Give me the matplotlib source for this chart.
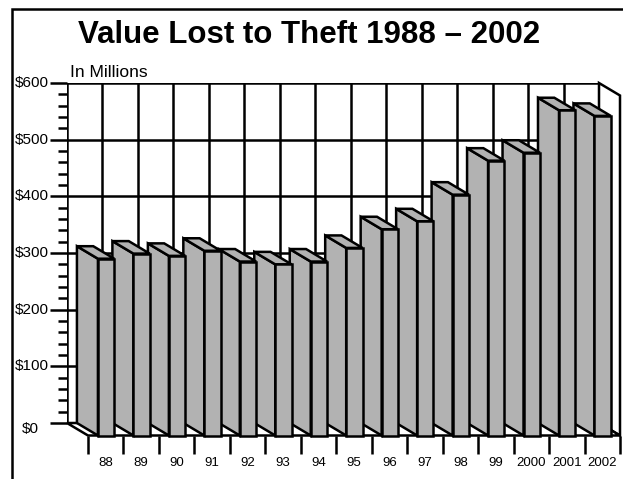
import matplotlib.pyplot as plt
from matplotlib.patches import Polygon, Rectangle
from matplotlib.ticker import MultipleLocator

years = ['88', '89', '90', '91', '92', '93', '94', '95', '96', '97',
         '98', '99', '2000', '2001', '2002']
values = [312, 321, 317, 326, 307, 302, 307, 331, 364, 378,
          425, 485, 499, 574, 564]
y_ticks = [0, 100, 200, 300, 400, 500, 600]
y_labels = ['$0', '$100', '$200', '$300', '$400', '$500', '$600']

W, H = 623, 479
DPI = 100
FONT = 'Liberation Sans'
GREY = '#b2b2b2'
LW = 1.8

fig = plt.figure(figsize=(W / DPI, H / DPI), dpi=DPI)

# back wall spans pixels x 67..599, y 83..423
ax = fig.add_axes([67 / W, 56 / H, 532 / W, 340 / H])
n = len(years)
ymax = y_ticks[-1]
ax.set_xlim(0, n)
ax.set_ylim(0, ymax)
for s in ax.spines.values():
    s.set_visible(False)
ax.patch.set_visible(False)

px_x = 532 / n          # pixels per category
px_y = 340 / ymax       # pixels per dollar
DX = 21 / px_x          # depth offset, front is right / down of back
DY = 12.5 / px_y

# back wall with grid
ax.add_patch(Rectangle((0, 0), n, ymax, facecolor='white', edgecolor='black',
                       lw=LW, zorder=1))
ax.hlines(y_ticks[1:-1], 0, n, colors='black', lw=LW, zorder=2)
ax.vlines(range(1, n), 0, ymax, colors='black', lw=LW, zorder=2)

# right wall and floor
ax.add_patch(Polygon([(n, 0), (n, ymax), (n + DX, ymax - DY), (n + DX, -DY)],
                     closed=True, facecolor='white', edgecolor='black',
                     lw=LW, zorder=3, clip_on=False))
ax.add_patch(Polygon([(0, 0), (n, 0), (n + DX, -DY), (DX, -DY)],
                     closed=True, facecolor='white', edgecolor='black',
                     lw=LW, zorder=3, clip_on=False, joinstyle='miter'))

# 3d bars, drawn right to left so the left ones sit in front
b0, b1 = 0.28, 0.74
for i in range(n - 1, -1, -1):
    v = values[i]
    L, R = i + b0, i + b1
    z = 10 + (n - i)
    faces = [
        [(L, 0), (L, v), (L + DX, v - DY), (L + DX, -DY)],
        [(L, v), (R, v), (R + DX, v - DY), (L + DX, v - DY)],
        [(L + DX, -DY), (R + DX, -DY), (R + DX, v - DY), (L + DX, v - DY)],
    ]
    for f in faces:
        ax.add_patch(Polygon(f, closed=True, facecolor=GREY, edgecolor='black',
                             lw=LW, zorder=z, clip_on=False, joinstyle='miter'))

# y axis ticks on the back wall
ax.set_yticks(y_ticks)
ax.yaxis.set_minor_locator(MultipleLocator(20))
ax.tick_params(axis='y', which='major', length=12.2, width=LW, labelleft=False)
ax.tick_params(axis='y', which='minor', length=6.5, width=LW)
ax.set_xticks([])
for v, lab in zip(y_ticks, y_labels):
    if v == 0:
        ax.annotate(lab, xy=(0, v), xytext=(-26.5, -4.5), textcoords='offset points',
                    ha='center', va='center', fontsize=11, family=FONT)
    else:
        ax.annotate(lab, xy=(0, v), xytext=(-13, 0), textcoords='offset points',
                    ha='right', va='center', fontsize=11, family=FONT)

# x ticks along the front edge of the floor
ax.vlines([k + DX for k in range(n + 1)], -DY, -DY - 18 / px_y,
          colors='black', lw=LW, clip_on=False)
for i, lab in enumerate(years):
    ax.annotate(lab, xy=(i + 0.5 + DX, -DY), xytext=(0, -20), textcoords='offset points',
                ha='center', va='center', fontsize=9.5, family=FONT,
                annotation_clip=False)

fig.text(309 / W, 1 - 43 / H, 'Value Lost to Theft 1988 \u2013 2002', ha='center',
         va='baseline', fontsize=22.5, fontweight='bold', family=FONT)
fig.text(70 / W, 1 - 77 / H, 'In Millions', ha='left', va='baseline',
         fontsize=12.5, family=FONT)

# outer frame (cut off at right and bottom)
fig.patches.append(Rectangle((12 / W, -0.2), 1.5, 1.2 - 9 / H, transform=fig.transFigure,
                             fill=False, edgecolor='black', lw=1.8))

fig.savefig('out.png', dpi=DPI)
